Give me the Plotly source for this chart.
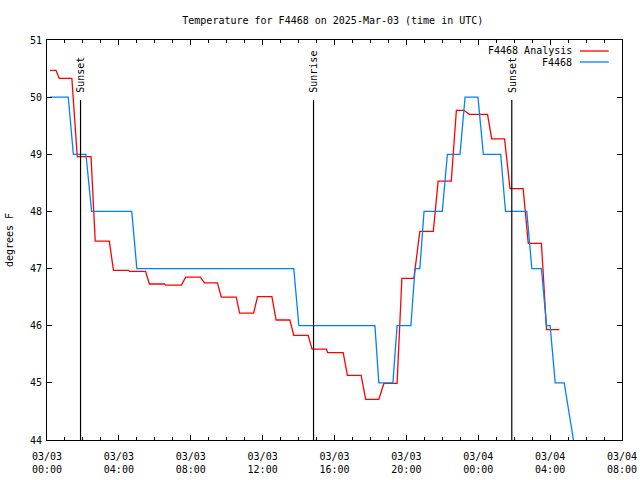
import plotly.graph_objects as go

# ---- data ----
obs_times = ["2025-03-03 00:10", "2025-03-03 01:11", "2025-03-03 01:28", "2025-03-03 02:10",
             "2025-03-03 02:29", "2025-03-03 04:43", "2025-03-03 05:00", "2025-03-03 13:44",
             "2025-03-03 14:01", "2025-03-03 18:15", "2025-03-03 18:28", "2025-03-03 19:15",
             "2025-03-03 19:29", "2025-03-03 20:15", "2025-03-03 20:29", "2025-03-03 20:45",
             "2025-03-03 20:59", "2025-03-03 22:00", "2025-03-03 22:17", "2025-03-03 22:59",
             "2025-03-03 23:16", "2025-03-03 23:59", "2025-03-04 00:17", "2025-03-04 01:15",
             "2025-03-04 01:31", "2025-03-04 02:42", "2025-03-04 02:59", "2025-03-04 03:31",
             "2025-03-04 03:48", "2025-03-04 04:00", "2025-03-04 04:17", "2025-03-04 04:47",
             "2025-03-04 05:18"]
obs_vals = [50, 50, 49, 49, 48, 48, 47, 47, 46, 46, 45, 45, 46, 46, 47, 47, 48, 48, 49, 49,
            50, 50, 49, 49, 48, 48, 47, 47, 46, 46, 45, 45, 44]

ana_times = ["2025-03-03 00:10", "2025-03-03 00:30", "2025-03-03 00:41", "2025-03-03 01:23",
             "2025-03-03 01:41", "2025-03-03 02:27", "2025-03-03 02:41", "2025-03-03 03:28",
             "2025-03-03 03:42", "2025-03-03 04:32", "2025-03-03 04:36", "2025-03-03 05:29",
             "2025-03-03 05:42", "2025-03-03 06:32", "2025-03-03 06:36", "2025-03-03 07:29",
             "2025-03-03 07:43", "2025-03-03 08:32", "2025-03-03 08:46", "2025-03-03 09:29",
             "2025-03-03 09:42", "2025-03-03 10:32", "2025-03-03 10:43", "2025-03-03 11:30",
             "2025-03-03 11:43", "2025-03-03 12:31", "2025-03-03 12:45", "2025-03-03 13:31",
             "2025-03-03 13:44", "2025-03-03 14:32", "2025-03-03 14:45", "2025-03-03 15:33",
             "2025-03-03 15:37", "2025-03-03 16:29", "2025-03-03 16:43", "2025-03-03 17:29",
             "2025-03-03 17:44", "2025-03-03 18:28", "2025-03-03 18:45", "2025-03-03 19:29",
             "2025-03-03 19:45", "2025-03-03 20:25", "2025-03-03 20:45", "2025-03-03 21:30",
             "2025-03-03 21:46", "2025-03-03 22:30", "2025-03-03 22:47", "2025-03-03 23:12",
             "2025-03-03 23:30", "2025-03-04 00:31", "2025-03-04 00:45", "2025-03-04 01:28",
             "2025-03-04 01:46", "2025-03-04 02:30", "2025-03-04 02:47", "2025-03-04 03:31",
             "2025-03-04 03:48", "2025-03-04 04:31"]
ana_vals = [50.47, 50.47, 50.33, 50.33, 48.96, 48.96, 47.48, 47.48, 46.97, 46.97, 46.95, 46.95,
            46.73, 46.73, 46.71, 46.71, 46.85, 46.85, 46.75, 46.75, 46.50, 46.50, 46.22, 46.22,
            46.51, 46.51, 46.10, 46.10, 45.83, 45.83, 45.59, 45.59, 45.53, 45.53, 45.13, 45.13,
            44.71, 44.71, 44.99, 44.99, 46.83, 46.83, 47.65, 47.65, 48.53, 48.53, 49.77, 49.77,
            49.70, 49.70, 49.27, 49.27, 48.40, 48.40, 47.44, 47.44, 45.93, 45.93]

sun_times = ["2025-03-03 01:52", "2025-03-03 14:50", "2025-03-04 01:52"]
sun_labels = ["Sunset", "Sunrise", "Sunset"]

series_names = ["F4468 Analysis", "F4468"]
series_colors = ["#ff0000", "#0080ff"]

FONT = "DejaVu Sans Mono"

fig = go.Figure()
fig.add_trace(go.Scatter(x=ana_times, y=ana_vals, mode="lines", name=series_names[0],
                         line=dict(color=series_colors[0], width=1.3), showlegend=False))
fig.add_trace(go.Scatter(x=obs_times, y=obs_vals, mode="lines", name=series_names[1],
                         line=dict(color=series_colors[1], width=1.3), showlegend=False))

for t, lab in zip(sun_times, sun_labels):
    fig.add_shape(type="line", xref="x", yref="paper", x0=t, x1=t, y0=0, y1=0.85,
                  line=dict(color="black", width=1.2))
    fig.add_annotation(x=t, xref="x", yref="paper", y=0.862, yanchor="bottom", xanchor="center",
                       text=lab, textangle=-90, showarrow=False,
                       font=dict(family=FONT, size=10, color="black"))

# legend (text left, sample line right, as in the reference)
leg_y = [0.9725, 0.945]
for name, col, yy in zip(series_names, series_colors, leg_y):
    fig.add_annotation(x=0.9165, xref="paper", y=yy, yref="paper", xanchor="right",
                       yanchor="middle", text=name, showarrow=False,
                       font=dict(family=FONT, size=10, color="black"))
    fig.add_shape(type="line", xref="paper", yref="paper", x0=0.927, x1=0.977, y0=yy, y1=yy,
                  line=dict(color=col, width=1.3))

fig.update_layout(
    width=640, height=480,
    margin=dict(l=47, r=18, t=40, b=40),
    paper_bgcolor="white", plot_bgcolor="white",
    font=dict(family=FONT, size=10, color="black"),
    title=dict(text="Temperature for F4468 on 2025-Mar-03 (time in UTC)", x=0.52, xanchor="center",
               y=1 - 20 / 480, yanchor="middle", yref="container",
               font=dict(family=FONT, size=10, color="black")),
)
fig.update_xaxes(
    type="date", range=["2025-03-03 00:00", "2025-03-04 08:00"], automargin=False,
    dtick=4 * 3600 * 1000, tick0="2025-03-03 00:00", tickformat="%m/%d<br>%H:%M",
    showgrid=False, zeroline=False, showline=True, linecolor="black", linewidth=1, mirror="allticks",
    ticks="inside", ticklen=5, tickcolor="black", tickwidth=1, ticklabelstandoff=7,
    minor=dict(dtick=3600 * 1000, ticks="inside", ticklen=3, tickcolor="black", showgrid=False),
    tickfont=dict(family=FONT, size=10, color="black"),
)
fig.update_yaxes(
    range=[44, 51], dtick=1, showgrid=False, zeroline=False, showline=True, linecolor="black",
    linewidth=1, mirror="allticks", ticks="inside", ticklen=5, tickcolor="black", tickwidth=1,
    automargin=False, ticklabelstandoff=2,
    title=dict(text="degrees F", standoff=14, font=dict(family=FONT, size=10, color="black")),
    tickfont=dict(family=FONT, size=10, color="black"),
)

fig.write_html("out.html")
